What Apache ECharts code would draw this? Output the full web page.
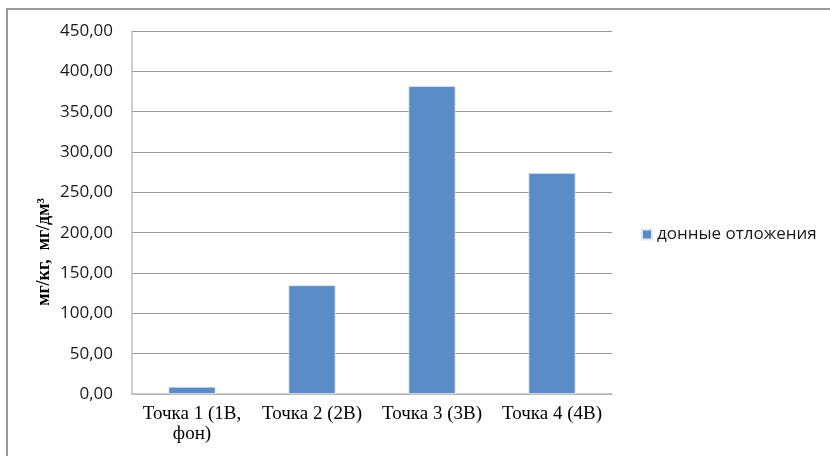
<!DOCTYPE html>
<html>
<head>
<meta charset="utf-8">
<script src="https://cdn.jsdelivr.net/npm/echarts@6/dist/echarts.min.js"></script>
<style>
  html, body { margin: 0; padding: 0; background: #fff; }
  #chart { width: 830px; height: 456px; }
</style>
</head>
<body>
<div id="chart"></div>
<script>
// Sampling points and measured concentrations in bottom sediments
const categories = ['Точка 1 (1В,\nфон)', 'Точка 2 (2В)', 'Точка 3 (3В)', 'Точка 4 (4В)'];
const sedimentValues = [8.9, 134.8, 381.8, 274.0];
const seriesName = 'донные отложения';
const yAxisTitle = 'мг/кг,  мг/дм³';

const chart = echarts.init(document.getElementById('chart'));

chart.setOption({
  animation: false,
  backgroundColor: '#ffffff',
  grid: { left: 132, top: 31, width: 480, height: 363, containLabel: false },
  legend: {
    data: [seriesName],
    left: 641,
    top: 226,
    padding: 0,
    itemWidth: 10,
    itemHeight: 10,
    itemGap: 4,
    icon: 'rect',
    textStyle: { fontFamily: 'Open Sans', fontSize: 17, color: '#1a1a1a', padding: [0, 0, 0, 0] }
  },
  xAxis: {
    type: 'category',
    data: categories,
    axisLine: { lineStyle: { color: '#bdbdbd', width: 1.5 } },
    axisTick: { show: false },
    axisLabel: {
      interval: 0,
      margin: 10,
      fontFamily: 'Liberation Serif',
      fontSize: 19,
      lineHeight: 20,
      color: '#000'
    }
  },
  yAxis: {
    type: 'value',
    min: 0,
    max: 450,
    interval: 50,
    axisLine: { show: true, lineStyle: { color: '#bdbdbd', width: 1.5 } },
    axisTick: { show: false },
    splitLine: { lineStyle: { color: '#999999', width: 1.2 } },
    axisLabel: {
      margin: 19,
      fontFamily: 'Open Sans',
      fontSize: 17,
      color: '#1a1a1a',
      formatter: v => v.toFixed(2).replace('.', ',')
    }
  },
  series: [{
    name: seriesName,
    type: 'bar',
    data: sedimentValues,
    barWidth: 47,
    itemStyle: { color: '#5a8bc5', borderColor: '#dfe9f6', borderWidth: 0.8 }
  }],
  graphic: [
    {
      type: 'rect',
      shape: { x: 7, y: 9, width: 840, height: 470 },
      style: { fill: 'none', stroke: '#9a9a9a', lineWidth: 2 },
      silent: true
    },
    {
      type: 'text',
      x: 44,
      y: 252,
      rotation: Math.PI / 2,
      style: {
        text: yAxisTitle,
        fontFamily: 'Liberation Serif',
        fontWeight: 'bold',
        fontSize: 18,
        fill: '#000',
        align: 'center',
        verticalAlign: 'middle'
      }
    }
  ]
});
</script>
</body>
</html>
